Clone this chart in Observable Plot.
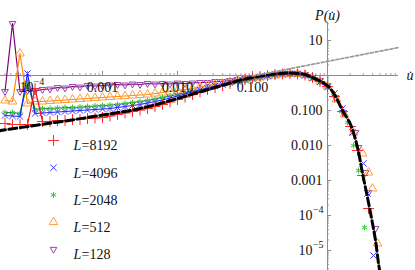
<!DOCTYPE html>
<html><head><meta charset="utf-8">
<script src="https://cdn.jsdelivr.net/npm/d3@7"></script>
<script src="https://cdn.jsdelivr.net/npm/@observablehq/plot@0.6"></script>
<style>
html,body{margin:0;padding:0;background:#fff;}
#wrap{position:relative;width:415px;height:270px;overflow:hidden;}
</style></head><body><div id="wrap"></div>
<script>
// ---- data (log10 values) ----
const logU = [-4.3,-4.2,-4.1,-4.0,-3.9,-3.8,-3.7,-3.6,-3.5,-3.4,-3.3,-3.2,-3.1,-3.0,-2.9,-2.8,-2.7,-2.6,-2.5,-2.4,-2.3,-2.2,-2.1,-2.0,-1.9,-1.8,-1.7,-1.6,-1.5,-1.4,-1.3,-1.2,-1.1,-1.0,-0.9,-0.8,-0.7,-0.6,-0.5,-0.4,-0.3,-0.2,-0.1,0.0];
const logP128  = [-0.457,1.486,-0.457,-0.429,-0.443,-0.4,-0.386,-0.343,-0.357,-0.314,-0.329,-0.286,-0.3,-0.286,-0.271,-0.257,-0.271,-0.243,-0.257,-0.229,-0.243,-0.229,-0.243,-0.214,-0.229,-0.214,-0.2,-0.2,-0.171,-0.171,-0.143,-0.114,-0.086,-0.057,-0.029,0,0.029,0.057,0.057,0.057,0.029,-0.057,-0.143,-0.286];
const logP512  = [-0.714,-0.743,0.629,-0.8,-0.743,-0.743,-0.729,-0.714,-0.7,-0.686,-0.671,-0.657,-0.643,-0.629,-0.614,-0.6,-0.586,-0.571,-0.557,-0.543,-0.514,-0.486,-0.457,-0.429,-0.4,-0.371,-0.329,-0.286,-0.257,-0.229,-0.186,-0.143,-0.114,-0.086,-0.057,-0.029,0,0.029,0.043,0.043,0.014,-0.071,-0.171,-0.314];
const logP2048 = [-1.057,-1.057,-1.086,-0.2,-0.971,-0.943,-0.943,-0.929,-0.914,-0.914,-0.9,-0.886,-0.871,-0.857,-0.843,-0.829,-0.8,-0.771,-0.743,-0.714,-0.671,-0.629,-0.586,-0.543,-0.5,-0.457,-0.414,-0.371,-0.329,-0.286,-0.243,-0.2,-0.157,-0.114,-0.071,-0.029,0,0.029,0.043,0.043,0.014,-0.057,-0.171,-0.314];
const logP4096 = [-1.143,-1.157,-1.171,0.057,-1.086,-1.071,-1.057,-1.043,-1.029,-1.014,-1.0,-0.986,-0.971,-0.957,-0.943,-0.914,-0.886,-0.857,-0.829,-0.786,-0.743,-0.7,-0.643,-0.586,-0.529,-0.471,-0.414,-0.357,-0.3,-0.257,-0.2,-0.157,-0.114,-0.071,-0.029,0,0.029,0.043,0.057,0.043,0,-0.071,-0.186,-0.329];
const logP8192 = [-1.371,-1.4,-1.4,-1.4,-0.371,-1.314,-1.314,-1.286,-1.286,-1.257,-1.257,-1.229,-1.214,-1.2,-1.157,-1.114,-1.071,-1.029,-0.986,-0.943,-0.886,-0.829,-0.757,-0.686,-0.614,-0.543,-0.471,-0.4,-0.343,-0.286,-0.229,-0.171,-0.114,-0.071,-0.029,0,0.029,0.043,0.057,0.043,0.014,-0.057,-0.171,-0.314];

// tails (u > 1), unjoined markers
const tailU128  = [0.107,0.213,0.373,0.413,0.507,0.547,0.64];
const tailP128  = [-0.629,-1.057,-1.629,-2.057,-2.771,-3.343,-4.371];
const tailU512  = [0.12,0.227,0.347,0.467,0.547,0.6,0.667];
const tailP512  = [-0.686,-1.114,-1.629,-2.229,-2.771,-3.229,-4.8];
const tailU2048 = [0.08,0.187,0.267,0.347,0.413,0.493];
const tailP2048 = [-0.571,-1.029,-1.343,-2.0,-2.714,-4.343];
const tailU4096 = [0.093,0.2,0.333,0.48,0.533,0.613];
const tailP4096 = [-0.514,-0.943,-1.629,-2.514,-3.371,-5.143];
const tailU8192 = [0.093,0.2,0.307,0.4,0.467,0.547];
const tailP8192 = [-0.6,-1.029,-1.457,-2.143,-2.857,-3.8];

// theory curve (black dashed) and power law (gray dotted)
const theoryLogU = [-4.4,-4.0,-3.5,-3.0,-2.5,-2.0,-1.5,-1.1,-0.8,-0.5,-0.3,-0.2,-0.1,0,0.1,0.2,0.307,0.4,0.467,0.533,0.6,0.64,0.68,0.72];
const theoryLogP = [-1.586,-1.457,-1.3,-1.129,-0.943,-0.657,-0.343,-0.1,0.014,0.071,0.029,-0.057,-0.157,-0.286,-0.571,-1.0,-1.4,-2.057,-2.8,-3.486,-4.229,-4.714,-5.371,-5.914];
const powerLogU = [-1.0, 0.95];
const powerLogP = [-0.014, 0.80];

// ticks
const xTickValues = [0.001, 0.01, 0.1];
const xTickLabels = ["0.001", "0.010", "0.100"];
const xSupValues = [1e-4];
const xSupExps = ["\u22124"];
const yTickValues = [10, 0.1, 0.01, 0.001];
const yTickLabels = ["10", "0.100", "0.010", "0.001"];
const ySupValues = [1e-4, 1e-5];
const ySupExps = ["\u22124", "\u22125"];
const legendL = ["8192", "4096", "2048", "512", "128"];

// ---- rendering ----
const font = '"Liberation Serif","Times New Roman","DejaVu Serif",serif';
const axisColor = "#8c8c8c";
const uMin = 10 ** -4.36, uMax = 10 ** 1.173, pMin = 10 ** -5.571, pMax = 10 ** 2.143;
const xAxisEndU = 8.85, yAxisTopP = 32.7;

const triDown = {
  draw(ctx, size) {
    const r = Math.sqrt(size) * 0.6824, t = r / 2, w = r * Math.sqrt(3) / 2;
    ctx.moveTo(0, r); ctx.lineTo(w, -t); ctx.lineTo(-w, -t); ctx.closePath();
  }
};

const series = [
  {L: "128",  logP: logP128,  tu: tailU128,  tp: tailP128,  line: "#800080", mark: "#9a40b0", symbol: triDown,    r: 3.2},
  {L: "512",  logP: logP512,  tu: tailU512,  tp: tailP512,  line: "#ff8800", mark: "#ff9e3d", symbol: "triangle", r: 3.2},
  {L: "2048", logP: logP2048, tu: tailU2048, tp: tailP2048, line: "#1e9e1e", mark: "#3cc43c", symbol: "asterisk", r: 2.8},
  {L: "4096", logP: logP4096, tu: tailU4096, tp: tailP4096, line: "#1a1aff", mark: "#3d3dff", symbol: "times",    r: 3},
  {L: "8192", logP: logP8192, tu: tailU8192, tp: tailP8192, line: "#ee1111", mark: "#ff2a2a", symbol: "plus",     r: 3.6}
];

const marks = [];
// axes
const decadesX = d3.range(-5, 2), decadesY = d3.range(-6, 3);
const minorX = decadesX.flatMap(e => d3.range(2, 10).map(m => m * 10 ** e)).filter(v => v > uMin && v < xAxisEndU);
const minorY = decadesY.flatMap(e => d3.range(2, 10).map(m => m * 10 ** e)).filter(v => v > pMin && v < yAxisTopP);
const majorX = decadesX.map(e => 10 ** e).filter(v => v > uMin && v < xAxisEndU && v !== 1);
const majorY = decadesY.map(e => 10 ** e).filter(v => v > pMin && v < yAxisTopP && v !== 1);

marks.push(Plot.ruleY([1], {x1: uMin, x2: xAxisEndU, stroke: axisColor, strokeWidth: 1}));
marks.push(Plot.ruleX([1], {y1: pMin, y2: yAxisTopP, stroke: axisColor, strokeWidth: 1}));
marks.push(Plot.ruleX(minorX, {x: d => d, y1: 1, y2: 1, insetTop: -2, stroke: axisColor, strokeWidth: 0.8}));
marks.push(Plot.ruleX(majorX, {x: d => d, y1: 1, y2: 1, insetTop: -4, stroke: axisColor, strokeWidth: 1}));
marks.push(Plot.ruleY(minorY, {y: d => d, x1: 1, x2: 1, insetRight: -2, stroke: axisColor, strokeWidth: 0.8}));
marks.push(Plot.ruleY(majorY, {y: d => d, x1: 1, x2: 1, insetRight: -4, stroke: axisColor, strokeWidth: 1}));

// series
for (const s of series) {
  const pts = logU.map((lu, i) => ({u: 10 ** lu, p: 10 ** s.logP[i]})).filter(d => isFinite(d.p));
  const tail = s.tu.map((lu, i) => ({u: 10 ** lu, p: 10 ** s.tp[i]}));
  marks.push(Plot.line(pts, {x: "u", y: "p", stroke: s.line, strokeWidth: 1.2, clip: true}));
  marks.push(Plot.dot(pts.concat(tail), {x: "u", y: "p", stroke: s.mark, fill: "none", symbol: s.symbol, r: s.r, strokeWidth: 1, clip: true}));
}
// theory curves
marks.push(Plot.line(theoryLogU.map((lu, i) => ({u: 10 ** lu, p: 10 ** theoryLogP[i]})),
  {x: "u", y: "p", stroke: "#000", strokeWidth: 3, strokeDasharray: "8,3.5", curve: "catmull-rom", clip: true}));
marks.push(Plot.line(powerLogU.map((lu, i) => ({u: 10 ** lu, p: 10 ** powerLogP[i]})),
  {x: "u", y: "p", stroke: "#999", strokeWidth: 1.7, strokeDasharray: "3,2", clip: true}));

// tick labels
const txt = {fontFamily: font, fill: "#111", fontSize: 14};
marks.push(Plot.text(xTickValues.map((v, i) => ({v, t: xTickLabels[i]})), {x: "v", y: 1, text: "t", dy: 12, textAnchor: "middle", ...txt}));
marks.push(Plot.text(xSupValues.map((v, i) => ({v, t: xSupExps[i]})), {x: "v", y: 1, text: () => "10", dy: 12, dx: 6, textAnchor: "end", ...txt}));
marks.push(Plot.text(xSupValues.map((v, i) => ({v, t: xSupExps[i]})), {x: "v", y: 1, text: "t", dy: 6, dx: 6, textAnchor: "start", ...txt, fontSize: 10}));
marks.push(Plot.text(yTickValues.map((v, i) => ({v, t: yTickLabels[i]})), {x: 1, y: "v", text: "t", dx: -5, textAnchor: "end", ...txt}));
marks.push(Plot.text(ySupValues.map((v, i) => ({v, t: ySupExps[i]})), {x: 1, y: "v", text: () => "10", dx: -15, textAnchor: "end", ...txt}));
marks.push(Plot.text(ySupValues.map((v, i) => ({v, t: ySupExps[i]})), {x: 1, y: "v", text: "t", dx: -4, dy: -6, textAnchor: "end", ...txt, fontSize: 10}));
// axis titles
marks.push(Plot.text(["P(u\u0307)"], {x: 1, frameAnchor: "top", dy: 10, text: d => d, fontStyle: "italic", ...txt, fontSize: 14}));
marks.push(Plot.text(["u\u0307"], {y: 1, frameAnchor: "right", dx: -2, text: d => d, textAnchor: "end", fontStyle: "italic", ...txt, fontSize: 14}));

// legend (inside the frame, top-left anchored)
legendL.forEach((L, i) => {
  const s = series.find(d => d.L === L);
  const rowY = 140 + 27.2 * i;
  marks.push(Plot.dot([s], {frameAnchor: "top-left", dx: 53, dy: rowY, stroke: s.mark, fill: "none", symbol: s.symbol, r: s.r, strokeWidth: 1}));
  marks.push(Plot.text([s], {frameAnchor: "top-left", dx: 73, dy: rowY, text: () => "L", textAnchor: "start", fontStyle: "italic", ...txt}));
  marks.push(Plot.text([s], {frameAnchor: "top-left", dx: 81, dy: rowY, text: d => "=" + d.L, textAnchor: "start", ...txt}));
});

const chart = Plot.plot({
  width: 415, height: 270, margin: 0,
  x: {type: "log", domain: [uMin, uMax], axis: null},
  y: {type: "log", domain: [pMin, pMax], axis: null},
  style: {background: "transparent", fontFamily: font},
  marks
});
document.getElementById("wrap").appendChild(chart);
</script>
</body></html>
